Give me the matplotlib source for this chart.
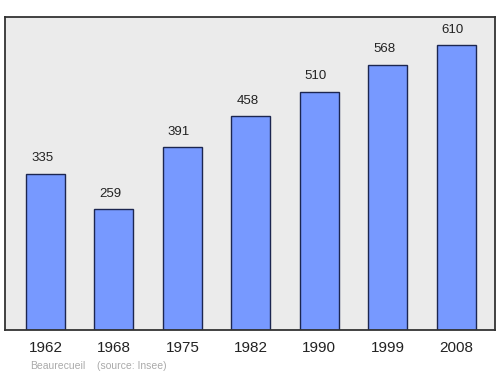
import matplotlib
matplotlib.use("Agg")
import matplotlib.pyplot as plt

plt.rcParams["font.family"] = ["Liberation Sans", "DejaVu Sans"]

years = ["1962", "1968", "1975", "1982", "1990", "1999", "2008"]
population = [335, 259, 391, 458, 510, 568, 610]

fig = plt.figure(figsize=(5.0, 3.74), dpi=100)
ax = fig.add_axes([5 / 500, 1 - 330 / 374, 490 / 500, 313 / 374])
ax.set_facecolor("#ebebeb")

x = list(range(len(years)))
ax.bar(x, population, width=0.57, color="#7799ff", edgecolor="#1c2650", linewidth=1.0, zorder=2)
for xi, v in zip(x, population):
    ax.text(xi - 0.05, v + 20, str(v), ha="center", va="bottom", fontsize=9.5, color="#222222")

ax.set_xlim(-0.592, 6.57)
ax.set_ylim(0, 670)
ax.set_yticks([])
ax.set_xticks(x)
ax.set_xticklabels(years, fontsize=11, color="#222222")
ax.tick_params(axis="x", length=0, pad=8)
for s in ax.spines.values():
    s.set_color("#333333")
    s.set_linewidth(1.3)

fig.text(30 / 500, 1 - 366 / 374, "Beaurecueil", fontsize=7.5, color="#aaaaaa", va="center")
fig.text(97 / 500, 1 - 366 / 374, "(source: Insee)", fontsize=7.5, color="#aaaaaa", va="center")

fig.savefig("out.png", dpi=100)
